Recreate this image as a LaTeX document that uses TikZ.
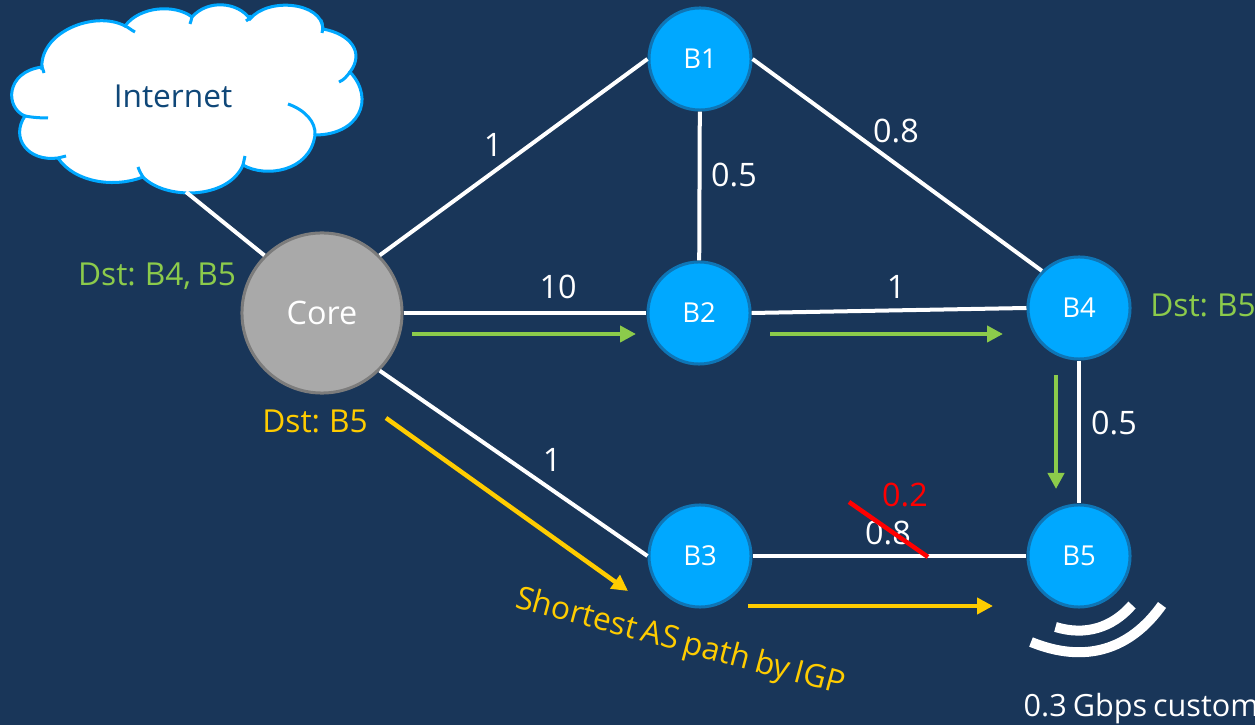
\documentclass[tikz,border=0pt]{standalone}
\usepackage{fontspec}
\setmainfont{Open Sans}[WordSpace=0.75]
\usepackage{xcolor}
\usetikzlibrary{arrows.meta}
\definecolor{bgblue}{HTML}{193659}
\definecolor{nodeblue}{HTML}{00A8FF}
\definecolor{nodeedge}{HTML}{0F75B5}
\definecolor{coregray}{HTML}{A9A9A9}
\definecolor{coreedge}{HTML}{7C7C7C}
\definecolor{pathgreen}{HTML}{8CCB4B}
\definecolor{pathyellow}{HTML}{FFCC00}
\definecolor{inettext}{HTML}{0F4778}
\tikzset{
  border/.style={circle,draw=nodeedge,fill=nodeblue,line width=0.03cm,minimum size=1.02cm,inner sep=0pt,text=white,font=\fontsize{7.8}{9}\selectfont},
  core/.style={circle,draw=coreedge,fill=coregray,line width=0.03cm,minimum size=1.6cm,inner sep=0pt,text=white,font=\fontsize{9.2}{11}\selectfont},
  link/.style={draw=white,line width=0.04cm},
  metric/.style={text=white,inner sep=0pt,font=\fontsize{9.2}{11}\selectfont},
  note/.style={inner sep=0pt,font=\fontsize{9}{11}\selectfont},
  route/.style={line width=0.045cm,-{Triangle[length=0.16cm,width=0.16cm]}},
  wave/.style={draw=white,line width=0.1cm},
  puff/.style={draw=nodeblue,line width=0.03cm}
}
\begin{document}
\begin{tikzpicture}[x=0.01cm,y=-0.01cm]
  \useasboundingbox (0,0) rectangle (1255,725);
  \fill[bgblue] (0,0) rectangle (1255,725);

  % the cloud
  \filldraw[fill=white,puff]
    (42,70) .. controls (38,32) and (95,10) .. (125,26)
    .. controls (140,6) and (175,4) .. (192,17)
    .. controls (208,-1) and (238,2) .. (250,19)
    .. controls (268,-3) and (322,2) .. (323,29)
    .. controls (350,34) and (365,52) .. (350,72)
    .. controls (376,100) and (358,135) .. (315,135)
    .. controls (310,172) and (265,178) .. (243,165)
    .. controls (228,200) and (165,200) .. (143,177)
    .. controls (115,188) and (75,183) .. (58,158)
    .. controls (28,162) and (10,138) .. (25,116)
    .. controls (5,108) and (5,72) .. (42,67) -- cycle;
  \draw[puff] (125,26) .. controls (128,27) and (131,30) .. (135,32);
  \draw[puff] (192,17) .. controls (191,20) and (191,22) .. (190,24);
  \draw[puff] (250,15) .. controls (252,17) and (250,18) .. (246,21);
  \draw[puff] (321,20) .. controls (323,25) and (323,29) .. (322,33);
  \draw[puff] (350,72) .. controls (347,76) and (344,80) .. (339,82);
  \draw[puff] (288,104) .. controls (305,110) and (316,122) .. (315,135);
  \draw[puff] (243,165) .. controls (244,162) and (244,159) .. (245,156);
  \draw[puff] (143,177) .. controls (141,174) and (139,170) .. (138,167);
  \draw[puff] (58,158) .. controls (58,158) and (62,157) .. (66,156);
  \draw[puff] (25,116) .. controls (30,117) and (38,118) .. (48,118);
  \draw[puff] (42,67) .. controls (43,68) and (43,71) .. (44,73);

  \coordinate (cloudtip) at (186,192);
  \node[text=inettext,inner sep=0pt,font=\fontsize{9}{11}\selectfont] (internet) at (173,96) {Internet};

  \node[core] (core) at (322,313) {\raisebox{-0.02cm}{Core}};
  \node[border] (b1) at (700,59) {B1};
  \node[border] (b2) at (699,313) {B2};
  \node[border] (b3) at (700,556) {B3};
  \node[border] (b4) at (1079,308) {B4};
  \node[border] (b5) at (1079,556) {B5};

  \draw[link] (cloudtip) -- (core.north west);
  \draw[link] (core.north east) -- (b1.west);
  \draw[link] (core.east) -- (b2.west);
  \draw[link] (core.south east) -- (b3.west);
  \draw[link] (b1) -- (b2);
  \draw[link] (b1.east) -- (b4.north west);
  \draw[link] (b2.east) -- (b4.west);
  \draw[link] (b3.east) -- (b5.west);
  \draw[link] (b4) -- (b5);

  \node[metric] (m1) at (493,145) {1};
  \node[metric] (m2) at (734,175) {0.5};
  \node[metric] (m3) at (896,131) {0.8};
  \node[metric] (m4) at (558,287) {10};
  \node[metric] (m5) at (896,287) {1};
  \node[metric] (m6) at (1114,423) {0.5};
  \node[metric] (m7) at (552,460) {1};
  \node[metric] (m8) at (888,533) {0.8};
  \node[metric,text=red] (m9) at (905,495) {0.2};

  \coordinate (strikea) at (849,502);
  \coordinate (strikeb) at (928,557);
  \draw[red,line width=0.045cm] (strikea) -- (strikeb);

  \coordinate (ga) at (412,334);
  \coordinate (gb) at (636,334);
  \coordinate (gc) at (770,334);
  \coordinate (gd) at (1003,334);
  \coordinate (ge) at (1056,375);
  \coordinate (gf) at (1056,489);
  \coordinate (ya) at (386,418);
  \coordinate (yb) at (628,591);
  \coordinate (yc) at (748,606);
  \coordinate (yd) at (993,606);
  \draw[route,pathgreen] (ga) -- (gb);
  \draw[route,pathgreen] (gc) -- (gd);
  \draw[route,pathgreen] (ge) -- (gf);
  \draw[route,pathyellow] (ya) -- (yb);
  \draw[route,pathyellow] (yc) -- (yd);

  \node[note,text=pathgreen] (dstcore) at (157,276) {Dst: B4, B5};
  \node[note,text=pathgreen] (dstfour) at (1203,305) {Dst: B5};
  \node[note,text=pathyellow] (dstyellow) at (315,421) {Dst: B5};
  \node[note,text=pathyellow,rotate=-15] (igp) at (680,643) {Shortest AS path by IGP};

  \draw[wave] (1055.5,627) .. controls (1085,636) and (1112,628) .. (1132,605);
  \draw[wave] (1031,642) .. controls (1085,664) and (1130,650) .. (1162,605);
  \node[note,text=white,anchor=west,font=\fontsize{8.7}{11}\selectfont] (customer) at (1023,709) {0.3 Gbps custom};
\end{tikzpicture}
\end{document}
